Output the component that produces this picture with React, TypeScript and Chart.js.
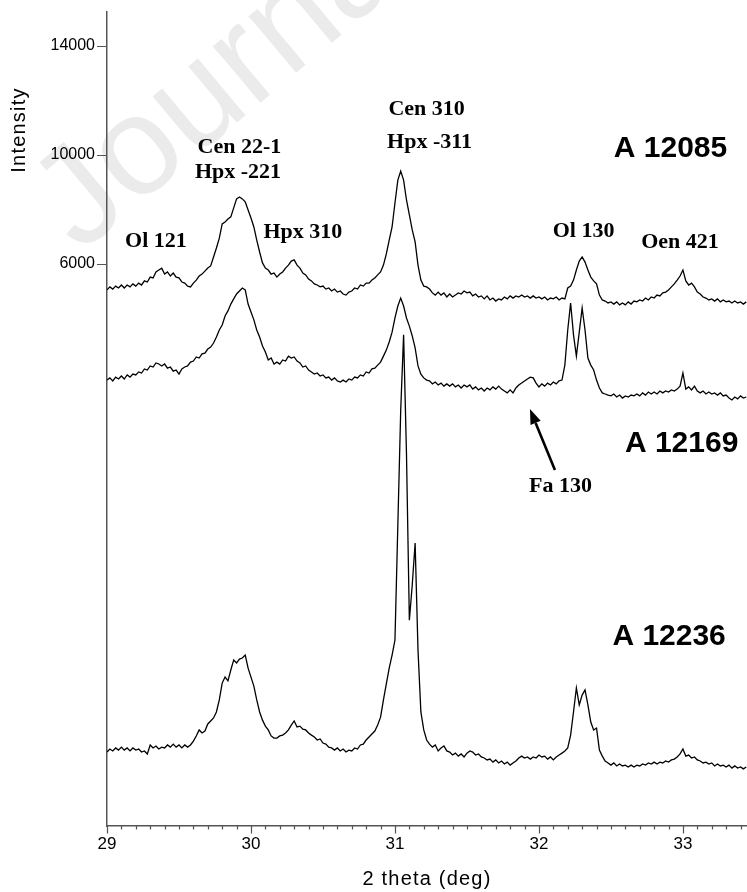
import React, { useEffect, useRef } from "react";
import { Chart, registerables } from "chart.js";

Chart.register(...registerables);

// 2-theta grid (deg) on which the three patterns are sampled
const THETA_START = 29;
const THETA_STEP = 0.02;

const X_TICKS = [29, 30, 31, 32, 33];
const Y_TICKS = [6000, 10000, 14000];
const X_MIN = 29;
const X_MAX = 33.445;
const Y_MIN = -14625;
const Y_MAX = 15249;

// Intensity (offset) of sample A 12085
const A12085 = [
  5050, 5160, 5080, 5190, 5120, 5230, 5120, 5230, 5160, 5270,
  5190, 5300, 5230, 5380, 5340, 5520, 5490, 5710, 5780, 5850,
  5630, 5710, 5560, 5670, 5520, 5490, 5340, 5300, 5190, 5160,
  5300, 5410, 5560, 5630, 5740, 5850, 5930, 6260, 6590, 6950,
  7470, 7540, 7650, 7730, 8060, 8390, 8460, 8390, 8280, 7980,
  7690, 7360, 6880, 6440, 6040, 5850, 5780, 5630, 5670, 5520,
  5630, 5710, 5850, 5960, 6110, 6150, 5960, 5850, 5670, 5600,
  5450, 5380, 5270, 5230, 5160, 5190, 5080, 5120, 5010, 5080,
  4970, 5010, 4900, 4860, 4970, 5010, 5120, 5080, 5230, 5190,
  5300, 5300, 5410, 5490, 5600, 5710, 5960, 6370, 6880, 7360,
  8240, 9080, 9410, 9080, 8350, 7800, 7250, 6810, 5960, 5410,
  5190, 5160, 5080, 4940, 4860, 4970, 4860, 4940, 4790, 4900,
  4790, 4860, 4940, 4900, 5010, 4940, 4970, 4830, 4900, 4790,
  4830, 4720, 4830, 4680, 4750, 4640, 4720, 4680, 4790, 4720,
  4830, 4750, 4830, 4790, 4860, 4790, 4830, 4750, 4830, 4750,
  4790, 4720, 4790, 4680, 4750, 4720, 4790, 4680, 4750, 4720,
  5120, 5190, 5410, 5780, 6110, 6260, 6070, 5780, 5520, 5380,
  5270, 4860, 4680, 4640, 4570, 4610, 4530, 4610, 4500, 4570,
  4500, 4610, 4530, 4640, 4610, 4680, 4640, 4750, 4680, 4790,
  4750, 4860, 4830, 4940, 4970, 5050, 5160, 5270, 5410, 5560,
  5780, 5380, 5230, 5300, 5160, 4970, 4900, 4790, 4750, 4680,
  4720, 4640, 4720, 4610, 4680, 4610, 4640, 4570, 4640, 4570,
  4610, 4530, 4610,
];

// Intensity (offset) of sample A 12169
const A12169 = [
  1740, 1820, 1710, 1850, 1780, 1890, 1780, 1930, 1850, 1960,
  1930, 2040, 2000, 2150, 2110, 2260, 2220, 2370, 2330, 2260,
  2330, 2180, 2220, 2070, 2110, 1960, 2150, 2220, 2260, 2400,
  2440, 2590, 2550, 2700, 2730, 2880, 2950, 3100, 3320, 3580,
  3760, 4090, 4280, 4530, 4720, 4900, 5010, 5120, 5050, 4530,
  4240, 3950, 3580, 3320, 2990, 2770, 2480, 2550, 2330, 2400,
  2330, 2480, 2440, 2620, 2550, 2590, 2440, 2370, 2220, 2260,
  2110, 2040, 1960, 2000, 1890, 1930, 1820, 1850, 1740, 1820,
  1710, 1670, 1740, 1670, 1780, 1740, 1850, 1820, 1930, 1890,
  2040, 2000, 2150, 2180, 2290, 2400, 2620, 2840, 3140, 3500,
  4020, 4460, 4750, 4460, 4020, 3720, 3360, 2920, 2260, 1960,
  1820, 1740, 1710, 1600, 1670, 1560, 1630, 1520, 1600, 1520,
  1600, 1490, 1560, 1450, 1560, 1490, 1560, 1410, 1490, 1380,
  1450, 1340, 1450, 1380, 1490, 1410, 1520, 1410, 1340, 1270,
  1380, 1270, 1450, 1560, 1630, 1710, 1780, 1850, 1820, 1630,
  1490, 1600, 1520, 1630, 1560, 1670, 1600, 1710, 1740, 2290,
  3580, 4570, 3400, 2620, 3500, 4390, 3580, 2550, 2290, 2110,
  1740, 1450, 1270, 1230, 1190, 1160, 1230, 1120, 1190, 1080,
  1160, 1120, 1190, 1160, 1230, 1160, 1270, 1190, 1300, 1230,
  1300, 1230, 1340, 1270, 1340, 1300, 1380, 1340, 1410, 1520,
  2000, 1410, 1490, 1380, 1520, 1340, 1270, 1340, 1230, 1300,
  1230, 1270, 1190, 1270, 1160, 1190, 1080, 1010, 1120, 1050,
  1160, 1080, 1120,
];

// Intensity (offset) of sample A 12236
const A12236 = [
  -11910, -11800, -11870, -11760, -11840, -11730, -11840, -11760, -11870, -11760,
  -11840, -11800, -11910, -11870, -11980, -11650, -11760, -11690, -11800, -11730,
  -11760, -11650, -11730, -11620, -11730, -11650, -11760, -11650, -11730, -11650,
  -11510, -11320, -11100, -11210, -11140, -10880, -10770, -10660, -10440, -10000,
  -9380, -9160, -9300, -8900, -8530, -8640, -8500, -8460, -8350, -8830,
  -9160, -9490, -10000, -10440, -10740, -10960, -11100, -11320, -11400, -11400,
  -11320, -11290, -11210, -11100, -10920, -10770, -10990, -10960, -11070, -11100,
  -11210, -11290, -11360, -11470, -11430, -11580, -11620, -11730, -11760, -11840,
  -11760, -11870, -11800, -11910, -11840, -11870, -11760, -11800, -11650, -11620,
  -11470, -11360, -11250, -11140, -10920, -10630, -10000, -9410, -8830, -8350,
  -7800, -3580, 640, 3400, -970, -7070, -5780, -4240, -8170, -10440,
  -11100, -11470, -11620, -11730, -11650, -11870, -11760, -11690, -11870, -11910,
  -12020, -11950, -12060, -11980, -12090, -11950, -11870, -11910, -12020, -11980,
  -12090, -12130, -12200, -12170, -12280, -12200, -12310, -12240, -12350, -12280,
  -12390, -12310, -12240, -12130, -12060, -12130, -12090, -12170, -12090, -12130,
  -12020, -12090, -12060, -12170, -12090, -12200, -12090, -12020, -11950, -11870,
  -11760, -11290, -10440, -9560, -10180, -9820, -9630, -10180, -10810, -11100,
  -11030, -11840, -12060, -12240, -12310, -12390, -12310, -12420, -12350, -12420,
  -12390, -12460, -12390, -12460, -12390, -12420, -12350, -12390, -12310, -12350,
  -12280, -12350, -12280, -12310, -12240, -12280, -12200, -12170, -12090, -11980,
  -11800, -12060, -12020, -12130, -12090, -12200, -12240, -12310, -12280, -12350,
  -12310, -12420, -12350, -12420, -12390, -12460, -12390, -12500, -12420, -12500,
  -12460, -12530, -12460,
];

// Reflection labels (Times bold), anchored in data coordinates (centre, baseline)
const PEAK_LABEL_TEXT = ["Ol 121", "Cen 22-1", "Hpx -221", "Hpx 310", "Cen 310", "Hpx -311", "Ol 130", "Oen 421", "Fa 130"];
const PEAK_LABEL_X = [29.34, 29.92, 29.91, 30.36, 31.22, 31.24, 32.31, 32.98, 32.15];
const PEAK_LABEL_Y = [6640, 10089, 9156, 6955, 11483, 10272, 7009, 6602, -2367];

// Sample names (Helvetica bold), anchored at left/baseline
const SAMPLE_NAMES = ["A 12085", "A 12169", "A 12236"];
const SAMPLE_X = [32.52, 32.597, 32.51];
const SAMPLE_Y = [9927, -900, -7983];

// Arrow pointing to Fa 130 (tail -> head), data coordinates
const ARROW_TAIL = { x: 32.111, y: -1560 };
const ARROW_HEAD = { x: 31.9375, y: 678 };

const SANS = '"Liberation Sans", Arial, Helvetica, sans-serif';
const SERIF = '"Liberation Serif", "Times New Roman", serif';

function toPoints(values: number[]) {
  return values.map((v, i) => ({ x: +(THETA_START + i * THETA_STEP).toFixed(2), y: v }));
}

const overlayPlugin = {
  id: "overlay",
  beforeDraw(chart: any) {
    const ctx = chart.ctx as CanvasRenderingContext2D;
    ctx.save();
    ctx.translate(80, 254);
    ctx.rotate((-40 * Math.PI) / 180);
    ctx.font = `140px ${SANS}`;
    ctx.fillStyle = "#ebebeb";
    ctx.textAlign = "left";
    ctx.textBaseline = "alphabetic";
    ctx.fillText("Journal Pre-proof", 0, 0);
    ctx.restore();
  },
  afterDraw(chart: any) {
    const ctx = chart.ctx as CanvasRenderingContext2D;
    const xs = chart.scales.x;
    const ys = chart.scales.y;
    const area = chart.chartArea;
    ctx.save();
    // tick marks
    ctx.strokeStyle = "#555";
    ctx.lineWidth = 1.2;
    ctx.beginPath();
    for (let k = 290; k <= 334; k++) {
      const px = Math.round(xs.getPixelForValue(k / 10)) + 0.5;
      const len = k % 10 === 0 ? 7.5 : 3.5;
      ctx.moveTo(px, area.bottom);
      ctx.lineTo(px, area.bottom + len);
    }
    for (const v of Y_TICKS) {
      const py = Math.round(ys.getPixelForValue(v)) + 0.5;
      ctx.moveTo(area.left, py);
      ctx.lineTo(area.left - 10, py);
    }
    ctx.stroke();

    // axis titles
    ctx.fillStyle = "#000";
    ctx.font = `20px ${SANS}`;
    (ctx as any).letterSpacing = "1.2px";
    ctx.textAlign = "center";
    ctx.textBaseline = "alphabetic";
    ctx.fillText("2 theta (deg)", (area.left + area.right) / 2, 885);
    ctx.save();
    ctx.translate(25, 130);
    ctx.rotate(-Math.PI / 2);
    ctx.fillText("Intensity", 0, 0);
    ctx.restore();
    (ctx as any).letterSpacing = "0px";

    // reflection labels
    ctx.font = `bold 22px ${SERIF}`;
    ctx.textAlign = "center";
    PEAK_LABEL_TEXT.forEach((t, i) => {
      ctx.fillText(t, xs.getPixelForValue(PEAK_LABEL_X[i]), ys.getPixelForValue(PEAK_LABEL_Y[i]));
    });

    // sample names
    ctx.font = `bold 30px ${SANS}`;
    ctx.textAlign = "left";
    SAMPLE_NAMES.forEach((t, i) => {
      ctx.fillText(t, xs.getPixelForValue(SAMPLE_X[i]), ys.getPixelForValue(SAMPLE_Y[i]));
    });

    // arrow
    const x0 = xs.getPixelForValue(ARROW_TAIL.x);
    const y0 = ys.getPixelForValue(ARROW_TAIL.y);
    const x1 = xs.getPixelForValue(ARROW_HEAD.x);
    const y1 = ys.getPixelForValue(ARROW_HEAD.y);
    const ang = Math.atan2(y1 - y0, x1 - x0);
    const headLen = 15;
    const headW = 5.5;
    const bx = x1 - headLen * Math.cos(ang);
    const by = y1 - headLen * Math.sin(ang);
    ctx.strokeStyle = "#000";
    ctx.lineWidth = 2.6;
    ctx.beginPath();
    ctx.moveTo(x0, y0);
    ctx.lineTo(bx, by);
    ctx.stroke();
    ctx.fillStyle = "#000";
    ctx.beginPath();
    ctx.moveTo(x1, y1);
    ctx.lineTo(bx + headW * Math.sin(ang), by - headW * Math.cos(ang));
    ctx.lineTo(bx - headW * Math.sin(ang), by + headW * Math.cos(ang));
    ctx.closePath();
    ctx.fill();
    ctx.restore();
  },
};

export default function App() {
  const canvasRef = useRef<HTMLCanvasElement | null>(null);

  useEffect(() => {
    const canvas = canvasRef.current;
    if (!canvas) return;
    const lineDs = (label: string, values: number[]) => ({
      label,
      data: toPoints(values),
      borderColor: "#000",
      borderWidth: 1.3,
      pointRadius: 0,
      tension: 0,
      fill: false,
    });
    const chart = new Chart(canvas, {
      type: "line",
      data: {
        datasets: [lineDs("A 12085", A12085), lineDs("A 12169", A12169), lineDs("A 12236", A12236)],
      },
      options: {
        animation: false,
        responsive: false,
        devicePixelRatio: 1,
        parsing: false as any,
        layout: { padding: { top: 12, left: 0, right: 0, bottom: 0 } },
        plugins: {
          legend: { display: false },
          tooltip: { enabled: false },
          title: { display: false },
        },
        scales: {
          x: {
            type: "linear",
            min: X_MIN,
            max: X_MAX,
            grid: { display: false, drawTicks: true, tickLength: 7 },
            border: { display: true, color: "#555", width: 1.5 },
            ticks: {
              padding: 1,
              color: "#000",
              autoSkip: false,
              maxRotation: 0,
              font: { family: SANS, size: 17 },
              callback: (v: any) => String(v),
            },
            afterBuildTicks: (s: any) => {
              s.ticks = X_TICKS.map((v) => ({ value: v }));
            },
            afterFit: (s: any) => {
              s.height = 66;
            },
          },
          y: {
            type: "linear",
            min: Y_MIN,
            max: Y_MAX,
            grid: { display: false, drawTicks: true, tickLength: 10 },
            border: { display: true, color: "#555", width: 1.5 },
            ticks: {
              padding: 2,
              color: "#000",
              font: { family: SANS, size: 16 },
              callback: (v: any) => String(v),
            },
            afterBuildTicks: (s: any) => {
              s.ticks = Y_TICKS.map((v) => ({ value: v }));
            },
            afterFit: (s: any) => {
              s.width = 107;
            },
          },
        },
      },
      plugins: [overlayPlugin],
    });
    return () => chart.destroy();
  }, []);

  return (
    <div style={{ position: "absolute", left: 0, top: 0, width: 747, height: 892, background: "#fff" }}>
      <canvas ref={canvasRef} width={747} height={892} style={{ display: "block", width: 747, height: 892 }} />
    </div>
  );
}
